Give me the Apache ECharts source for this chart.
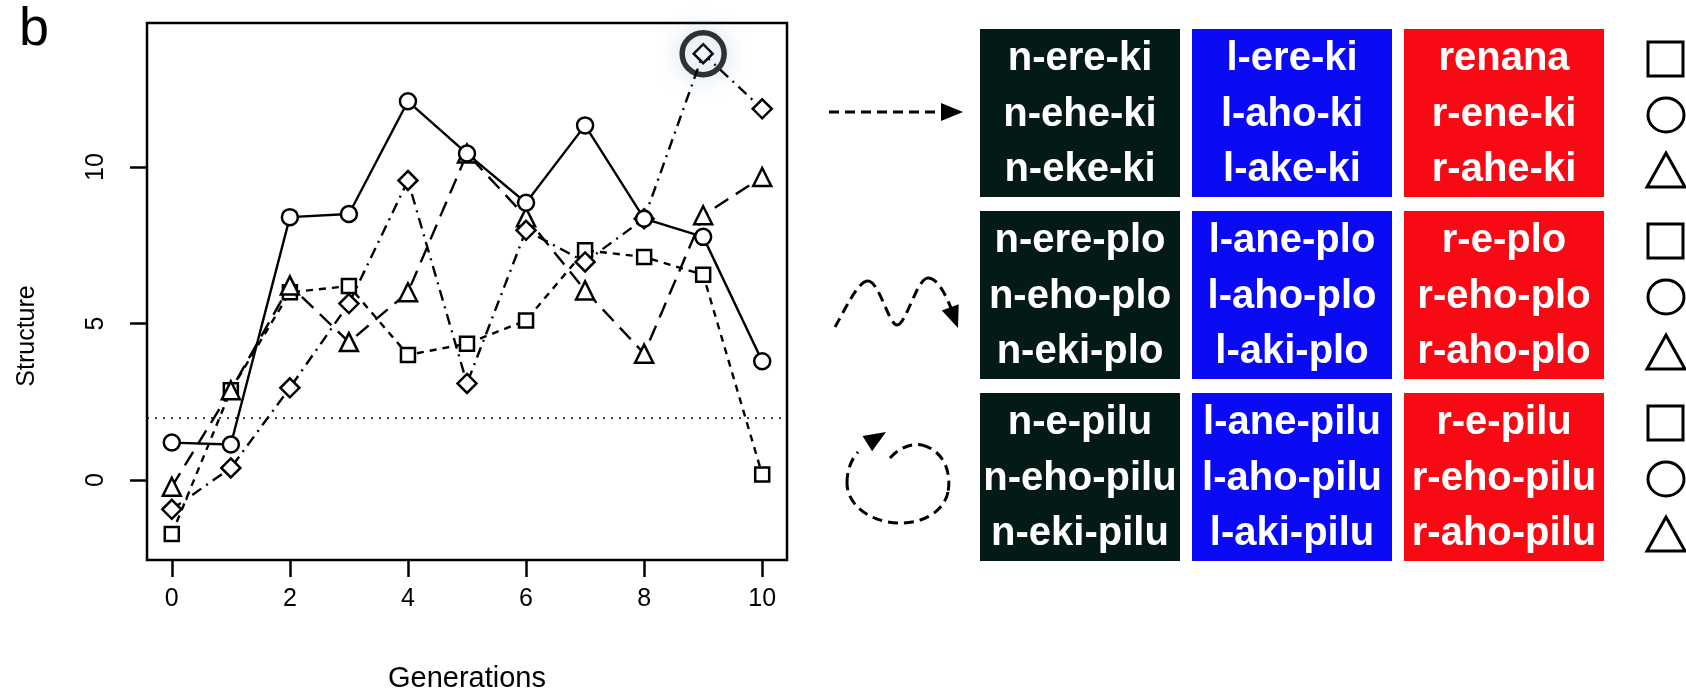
<!DOCTYPE html>
<html>
<head>
<meta charset="utf-8">
<script src="https://cdn.jsdelivr.net/npm/echarts@6/dist/echarts.min.js"></script>
<style>
  html, body { margin: 0; padding: 0; background: #fff; }
  #chart { width: 1686px; height: 698px; }
</style>
</head>
<body>
<div id="chart"></div>
<script>
// datos
const generations = [0, 1, 2, 3, 4, 5, 6, 7, 8, 9, 10];
const squareVals = [-1.72, 2.87, 6.0, 6.2, 4.0, 4.36, 5.1, 7.34, 7.13, 6.56, 0.18];
const circleVals = [1.2, 1.14, 8.4, 8.5, 12.1, 10.43, 8.86, 11.33, 8.35, 7.77, 3.8];
const triangleVals = [-0.21, 2.87, 6.22, 4.41, 6.0, 10.43, 8.4, 6.06, 4.04, 8.46, 9.68];
const diamondVals = [-0.93, 0.39, 2.95, 5.64, 9.57, 3.09, 7.98, 6.97, 8.35, 13.62, 11.86];
const thresholdY = 2;
const highlightIdx = 9;
const xTicks = [0, 2, 4, 6, 8, 10];
const yTicks = [0, 5, 10];

// palabras de las tablas de la derecha (grupo -> columna -> fila)
const wordsKi = [['n-ere-ki', 'n-ehe-ki', 'n-eke-ki'], ['l-ere-ki', 'l-aho-ki', 'l-ake-ki'], ['renana', 'r-ene-ki', 'r-ahe-ki']];
const wordsPlo = [['n-ere-plo', 'n-eho-plo', 'n-eki-plo'], ['l-ane-plo', 'l-aho-plo', 'l-aki-plo'], ['r-e-plo', 'r-eho-plo', 'r-aho-plo']];
const wordsPilu = [['n-e-pilu', 'n-eho-pilu', 'n-eki-pilu'], ['l-ane-pilu', 'l-aho-pilu', 'l-aki-pilu'], ['r-e-pilu', 'r-eho-pilu', 'r-aho-pilu']];
const columnColors = ['#031a17', '#0a0af5', '#f80a14'];
const rowSymbols = ['rect', 'circle', 'triangle'];

const FONT = '"Liberation Sans", Arial, Helvetica, sans-serif';

function pairs(vals) {
    return generations.map((g, i) => [g, vals[i]]);
}

function lineSeries(name, vals, symbol, size, dash) {
    return {
        name: name,
        type: 'line',
        data: pairs(vals),
        symbol: symbol,
        symbolSize: size,
        showAllSymbol: true,
        z: 3,
        lineStyle: { color: '#000', width: 2.4, type: dash },
        itemStyle: { color: '#fff', borderColor: '#000', borderWidth: 2.5 },
        emphasis: { disabled: true },
        animation: false
    };
}

// punta de flecha: tip y punto de donde viene
function arrowHead(tip, from, len, half) {
    const dx = tip[0] - from[0], dy = tip[1] - from[1];
    const d = Math.sqrt(dx * dx + dy * dy);
    const ux = dx / d, uy = dy / d;
    const bx = tip[0] - ux * len, by = tip[1] - uy * len;
    return {
        type: 'polygon',
        shape: { points: [tip, [bx - uy * half, by + ux * half], [bx + uy * half, by - ux * half]] },
        style: { fill: '#000' }
    };
}

const dashStyle = { stroke: '#000', lineWidth: 3, fill: null, lineDash: [10, 6] };

// curvas de bezier encadenadas: [x1,y1, cpx1,cpy1, cpx2,cpy2, x2,y2]
function curves(segs) {
    return segs.map(s => ({
        type: 'bezierCurve',
        shape: { x1: s[0], y1: s[1], cpx1: s[2], cpy1: s[3], cpx2: s[4], cpy2: s[5], x2: s[6], y2: s[7] },
        style: dashStyle
    }));
}

const graphics = [];

// letra del panel
graphics.push({
    type: 'text', x: 19, y: 3,
    style: { text: 'b', font: '54px ' + FONT, fill: '#000' }
});

// título del eje Y (algo más abajo que el centro, como en la figura)
graphics.push({
    type: 'text', x: 27, y: 336, rotation: Math.PI / 2,
    style: {
        text: 'Structure', font: '25px ' + FONT, fill: '#000',
        align: 'center', verticalAlign: 'middle', textAlign: 'center', textVerticalAlign: 'middle'
    }
});

// tablas de colores
const groups = [wordsKi, wordsPlo, wordsPilu];
const colX = [980, 1192, 1404];
const groupTop = [29, 211, 393];
const boxW = 200, boxH = 168;
const rowOffset = [30, 86, 141];

groups.forEach((grp, gi) => {
    grp.forEach((col, ci) => {
        graphics.push({
            type: 'rect',
            shape: { x: colX[ci], y: groupTop[gi], width: boxW, height: boxH },
            style: { fill: columnColors[ci] }
        });
        col.forEach((word, ri) => {
            graphics.push({
                type: 'text',
                x: colX[ci] + boxW / 2,
                y: groupTop[gi] + rowOffset[ri],
                style: {
                    text: word, fill: '#fff', font: 'bold 40px ' + FONT,
                    align: 'center', verticalAlign: 'middle',
                    textAlign: 'center', textVerticalAlign: 'middle'
                }
            });
        });
    });
    // símbolos de la columna derecha
    rowSymbols.forEach((sym, ri) => {
        const cy = groupTop[gi] + rowOffset[ri];
        const st = { stroke: '#000', lineWidth: 3, fill: null };
        if (sym === 'rect') {
            graphics.push({ type: 'rect', shape: { x: 1648, y: cy - 17, width: 35, height: 34 }, style: st });
        } else if (sym === 'circle') {
            graphics.push({ type: 'ellipse', shape: { cx: 1666, cy: cy, rx: 18, ry: 17 }, style: st });
        } else {
            graphics.push({ type: 'polygon', shape: { points: [[1666, cy - 17], [1685, cy + 17], [1647, cy + 17]] }, style: st });
        }
    });
});

// flecha recta
graphics.push({ type: 'line', shape: { x1: 829, y1: 112, x2: 944, y2: 112 }, style: dashStyle });
graphics.push(arrowHead([963, 112], [940, 112], 22, 9));

// flecha ondulada
curves([
    [835, 327, 846, 308, 858, 281, 868, 281],
    [868, 281, 879, 281, 889, 325, 897, 325],
    [897, 325, 906, 325, 917, 278, 928, 278],
    [928, 278, 938, 278, 946, 296, 951, 308]
]).forEach(c => graphics.push(c));
graphics.push(arrowHead([958, 328], [949, 304], 22, 9));

// flecha circular
curves([
    [890, 458, 900, 447, 912, 443, 922, 445],
    [922, 445, 942, 450, 952, 470, 948, 492],
    [948, 492, 944, 512, 922, 524, 898, 523],
    [898, 523, 870, 522, 847, 505, 847, 483],
    [847, 483, 847, 470, 851, 460, 858, 452]
]).forEach(c => graphics.push(c));
graphics.push(arrowHead([886, 432], [862, 447], 22, 9));

const chart = echarts.init(document.getElementById('chart'));

const option = {
    backgroundColor: '#fff',
    animation: false,
    grid: {
        left: 147, top: 23, width: 640, height: 539,
        show: true, borderColor: '#000', borderWidth: 2.5, backgroundColor: 'transparent'
    },
    xAxis: {
        type: 'value', min: -0.42, max: 10.42,
        name: 'Generations', nameLocation: 'middle', nameGap: 104,
        nameTextStyle: { fontFamily: FONT, fontSize: 29, color: '#000' },
        axisLine: { show: false, onZero: false },
        splitLine: { show: false },
        axisTick: { show: true, customValues: xTicks, length: 17, lineStyle: { color: '#000', width: 2.5 } },
        axisLabel: { customValues: xTicks, margin: 27, fontFamily: FONT, fontSize: 25, color: '#000' }
    },
    yAxis: {
        type: 'value', min: -2.55, max: 14.6,
        axisLine: { show: false, onZero: false },
        splitLine: { show: false },
        axisTick: { show: true, customValues: yTicks, length: 17, lineStyle: { color: '#000', width: 2.5 } },
        axisLabel: { customValues: yTicks, rotate: 90, margin: 38, fontFamily: FONT, fontSize: 25, color: '#000' }
    },
    series: [
        Object.assign(lineSeries('square', squareVals, 'rect', 14, [7, 6]), {
            markLine: {
                silent: true, symbol: 'none', label: { show: false },
                lineStyle: { color: '#000', width: 1.6, type: [2, 6] },
                data: [{ yAxis: thresholdY }]
            }
        }),
        lineSeries('triangle', triangleVals, 'triangle', 18, [16, 9]),
        lineSeries('diamond', diamondVals, 'diamond', 19, [11, 6, 2, 6]),
        lineSeries('circle', circleVals, 'circle', 16, 'solid'),
        {
            name: 'highlight',
            type: 'scatter',
            data: [[generations[highlightIdx], diamondVals[highlightIdx]]],
            symbol: 'circle',
            symbolSize: 42,
            z: 4,
            itemStyle: {
                color: 'rgba(0,0,0,0)', borderColor: '#000', borderWidth: 5.5,
                shadowBlur: 20, shadowColor: 'rgba(110,150,205,0.7)'
            },
            emphasis: { disabled: true }
        }
    ],
    graphic: graphics
};

chart.setOption(option);
</script>
</body>
</html>
